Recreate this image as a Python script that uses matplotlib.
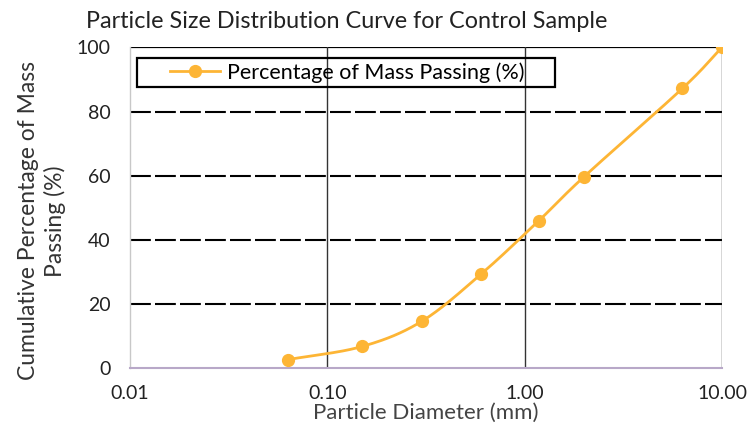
import numpy as np
import matplotlib.pyplot as plt
from matplotlib.lines import Line2D
from matplotlib.patches import Rectangle

plt.rcParams['font.family'] = ['Lato', 'DejaVu Sans']

# Data
diameter_mm = [0.063, 0.15, 0.30, 0.60, 1.18, 2.0, 6.3, 10.0]
passing_pct = [2.7, 6.8, 14.6, 29.3, 46.0, 59.7, 87.2, 100.0]
x_ticks = [0.01, 0.1, 1, 10]
x_tick_labels = ["0.01", "0.10", "1.00", "10.00"]
y_ticks = [0, 20, 40, 60, 80, 100]

orange = "#FDB535"


def smooth_line(xs, ys, n=30):
    # Catmull-Rom curve through the points (log x), like Excel's smoothed line
    lx = np.log10(xs)
    ys = np.asarray(ys, float)
    px = np.concatenate([[2 * lx[0] - lx[1]], lx, [2 * lx[-1] - lx[-2]]])
    py = np.concatenate([[2 * ys[0] - ys[1]], ys, [2 * ys[-1] - ys[-2]]])
    out_x, out_y = [], []
    t = np.linspace(0, 1, n)
    for i in range(1, len(px) - 2):
        for arr, out in ((px, out_x), (py, out_y)):
            p0, p1, p2, p3 = arr[i - 1], arr[i], arr[i + 1], arr[i + 2]
            seg = 0.5 * (2 * p1 + (-p0 + p2) * t
                         + (2 * p0 - 5 * p1 + 4 * p2 - p3) * t ** 2
                         + (-p0 + 3 * p1 - 3 * p2 + p3) * t ** 3)
            out.extend(seg)
    return 10 ** np.array(out_x), np.array(out_y)


fig = plt.figure(figsize=(7.49, 4.25), dpi=100)
ax = fig.add_axes([0.1736, 0.1334, 0.7904, 0.7553])

ax.set_xscale("log")
ax.set_xlim(0.01, 10)
ax.set_ylim(0, 100)

# grid
for yv in [20, 40, 60, 80]:
    ax.axhline(yv, color="black", lw=1.5, dashes=(10, 2), zorder=1)
ax.axhline(100, color="black", lw=1.6, zorder=1)
for xv in [0.1, 1, 10]:
    ax.axvline(xv, color="#333333", lw=1.0, zorder=1)

sx, sy = smooth_line(diameter_mm, passing_pct)
ax.plot(sx, sy, color=orange, lw=2.0, zorder=3)
ax.plot(diameter_mm, passing_pct, "o", color=orange, ms=8.5, zorder=4)

ax.set_xticks(x_ticks)
ax.set_xticklabels(x_tick_labels)
ax.minorticks_off()
ax.set_yticks(y_ticks)
ax.tick_params(length=0, labelsize=14, colors="#222222")
ax.tick_params(axis="y", pad=14)
ax.tick_params(axis="x", pad=12)

for s in ["top", "right"]:
    ax.spines[s].set_visible(False)
ax.spines["left"].set_color("#c8c8c8")
ax.spines["bottom"].set_color("#b8a8c8")
ax.spines["left"].set_linewidth(1.0)
ax.spines["bottom"].set_linewidth(1.5)

ax.set_xlabel("Particle Diameter (mm)", fontsize=16, color="#444444")
ax.xaxis.set_label_coords(0.5, -0.107)
ax.set_ylabel("Cumulative Percentage of Mass\nPassing (%)", fontsize=16.5,
              color="#333333", linespacing=1.3)
ax.yaxis.set_label_coords(-0.108, 0.459)

fig.text(347 / 749, 1 - 22 / 425, "Particle Size Distribution Curve for Control Sample",
         fontsize=16.8, color="#222222", ha="center", va="center")

# legend (frame drawn separately so the handle can sit further in)
ax.add_patch(Rectangle((0.0118, 0.876), 0.706, 0.0903, transform=ax.transAxes,
                       fill=False, edgecolor="black", lw=1.6, zorder=5))
handle = Line2D([], [], color=orange, lw=2.0, marker="o", ms=8.5)
leg = ax.legend([handle], ["Percentage of Mass Passing (%)"],
                loc="center left", bbox_to_anchor=(0.068, 0.921),
                fontsize=15.5, frameon=False, borderpad=0,
                handlelength=2.3, handletextpad=0.35, borderaxespad=0)

fig.savefig("out.png", dpi=100)
